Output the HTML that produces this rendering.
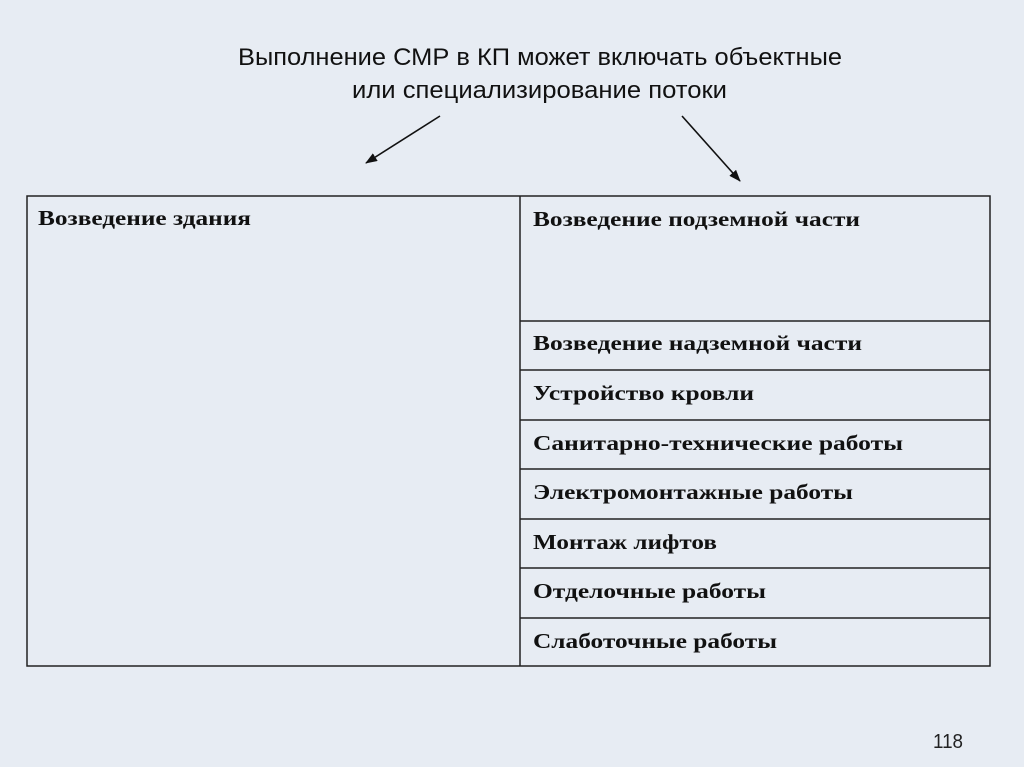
<!DOCTYPE html>
<html><head><meta charset="utf-8"><style>
html,body{margin:0;padding:0;width:1024px;height:767px;overflow:hidden;background:#e7ecf3;}
svg{display:block}
.t{font-family:"Liberation Sans","DejaVu Sans",sans-serif;font-size:24px;fill:#111;}
.c{font-family:"Liberation Serif","DejaVu Serif",serif;font-weight:bold;font-size:21px;fill:#111;}
</style></head><body>
<svg width="1024" height="767" viewBox="0 0 1024 767" xmlns="http://www.w3.org/2000/svg">
<defs><marker id="a" markerWidth="12" markerHeight="9" refX="11" refY="4.5" orient="auto" markerUnits="userSpaceOnUse"><path d="M0,0 L12,4.5 L0,9 z" fill="#111"/></marker></defs>
<rect width="1024" height="767" fill="#e7ecf3"/>
<text class="t" x="238" y="65" textLength="604" lengthAdjust="spacingAndGlyphs">Выполнение СМР в КП может включать объектные</text>
<text class="t" x="352" y="98" textLength="375" lengthAdjust="spacingAndGlyphs">или специализирование потоки</text>
<line x1="440" y1="116" x2="366" y2="163" stroke="#111" stroke-width="1.6" marker-end="url(#a)"/>
<line x1="682" y1="116" x2="740" y2="181" stroke="#111" stroke-width="1.6" marker-end="url(#a)"/>
<g stroke="#222" stroke-width="1.5" fill="none">
<rect x="27" y="196" width="963" height="470"/>
<line x1="520" y1="196" x2="520" y2="666"/>
<line x1="520" y1="321" x2="990" y2="321"/>
<line x1="520" y1="370" x2="990" y2="370"/>
<line x1="520" y1="420" x2="990" y2="420"/>
<line x1="520" y1="469" x2="990" y2="469"/>
<line x1="520" y1="519" x2="990" y2="519"/>
<line x1="520" y1="568" x2="990" y2="568"/>
<line x1="520" y1="618" x2="990" y2="618"/>
</g>
<text class="c" x="38" y="225" textLength="213" lengthAdjust="spacingAndGlyphs">Возведение здания</text>
<text class="c" x="533" y="226" textLength="327" lengthAdjust="spacingAndGlyphs">Возведение подземной части</text>
<text class="c" x="533" y="350" textLength="329" lengthAdjust="spacingAndGlyphs">Возведение надземной части</text>
<text class="c" x="533" y="400" textLength="221" lengthAdjust="spacingAndGlyphs">Устройство кровли</text>
<text class="c" x="533" y="450" textLength="370" lengthAdjust="spacingAndGlyphs">Санитарно-технические работы</text>
<text class="c" x="533" y="499" textLength="320" lengthAdjust="spacingAndGlyphs">Электромонтажные работы</text>
<text class="c" x="533" y="549" textLength="184" lengthAdjust="spacingAndGlyphs">Монтаж лифтов</text>
<text class="c" x="533" y="598" textLength="233" lengthAdjust="spacingAndGlyphs">Отделочные работы</text>
<text class="c" x="533" y="648" textLength="244" lengthAdjust="spacingAndGlyphs">Слаботочные работы</text>
<text x="933" y="748" font-family="Liberation Sans, sans-serif" font-size="20" fill="#222" textLength="30" lengthAdjust="spacingAndGlyphs">118</text>
</svg>
</body></html>
